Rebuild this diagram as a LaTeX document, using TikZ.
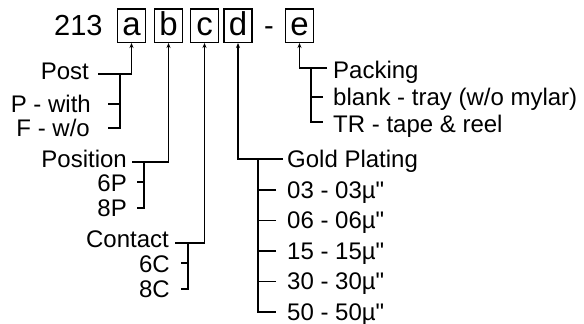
\documentclass[tikz,border=0pt]{standalone}
\usepackage{fontspec}
\setmainfont{Liberation Sans}[Ligatures=TeXOff]
\usetikzlibrary{arrows.meta}

\begin{document}
\begin{tikzpicture}[x=1pt,y=-1pt,
	lbl/.style={inner sep=0pt,font=\fontsize{24}{28}\selectfont},
	pn/.style={inner sep=0pt,font=\fontsize{29}{34}\selectfont},
	digit/.style={inner sep=0pt,font=\fontsize{33}{38}\selectfont,draw,line width=1.5pt,minimum width=28pt,text height=26.25pt,text depth=7.25pt},
	conn/.style={line width=1.6pt},
	tip/.style={-{Stealth[length=5pt,width=4pt]}}]
	
	\useasboundingbox (0,0) rectangle (584,324);
	
	% part number
	\node[pn,anchor=base west] (num) at (54,35) {213};
	\node[digit,anchor=base] (a) at (131.5,35) {a};
	\node[digit,anchor=base] (b) at (168.5,35) {b};
	\node[digit,anchor=base] (c) at (204.5,35) {c};
	\node[digit,anchor=base] (d) at (238,35) {d};
	\node[pn,anchor=base] (dash) at (269,35) {-};
	\node[digit,anchor=base] (e) at (299.5,35) {e};
	
	% left labels
	\node[lbl,anchor=base east] (post) at (89,79.5) {Post};
	\node[lbl,anchor=base east] (pwith) at (91,112.5) {P - with};
	\node[lbl,anchor=base east] (fwo) at (90,136.5) {F - w/o};
	\node[lbl,anchor=base east] (posn) at (127,167.5) {Position};
	\node[lbl,anchor=base east] (p6) at (127,191.5) {6P};
	\node[lbl,anchor=base east] (p8) at (127,216) {8P};
	\node[lbl,anchor=base east] (cont) at (169,247) {Contact};
	\node[lbl,anchor=base east] (c6) at (170,272) {6C};
	\node[lbl,anchor=base east] (c8) at (170,297) {8C};
	
	% right labels
	\node[lbl,anchor=base west] (pack) at (333,78) {Packing};
	\node[lbl,anchor=base west] (tray) at (333,105) {blank - tray (w/o mylar)};
	\node[lbl,anchor=base west] (reel) at (333,132) {TR - tape \& reel};
	\node[lbl,anchor=base west] (gold) at (287,167) {Gold Plating};
	\node[lbl,anchor=base west] (g03) at (287,198) {03 - 03µ"};
	\node[lbl,anchor=base west] (g06) at (287,228.5) {06 - 06µ"};
	\node[lbl,anchor=base west] (g15) at (287,259) {15 - 15µ"};
	\node[lbl,anchor=base west] (g30) at (287,289.5) {30 - 30µ"};
	\node[lbl,anchor=base west] (g50) at (287,320) {50 - 50µ"};
	
	% post
	\coordinate (ka) at (98,74);
	\coordinate (ka1) at (120,74);
	\coordinate (ka2) at (108,104);
	\coordinate (ka3) at (108,128);
	\draw[conn,tip] (ka) -| (a.south);
	\draw[conn] (ka1) |- (ka3);
	\draw[conn] (ka2) -| (ka1);
	
	% position
	\coordinate (kb) at (132,162);
	\coordinate (kb1) at (144,162);
	\coordinate (kb2) at (137,182);
	\coordinate (kb3) at (137,208);
	\draw[conn,tip] (kb) -| (b.south);
	\draw[conn] (kb1) |- (kb3);
	\draw[conn] (kb2) -| (kb1);
	
	% contact
	\coordinate (kc) at (175,243);
	\coordinate (kc1) at (188,243);
	\coordinate (kc2) at (181,263);
	\coordinate (kc3) at (181,289);
	\draw[conn,tip] (kc) -| (c.south);
	\draw[conn] (kc1) |- (kc3);
	\draw[conn] (kc2) -| (kc1);
	
	% gold plating
	\coordinate (kd) at (283,159);
	\coordinate (kd1) at (258,159);
	\coordinate (kd2) at (276,190);
	\coordinate (kd3) at (276,220.5);
	\coordinate (kd4) at (276,251);
	\coordinate (kd5) at (276,281.5);
	\coordinate (kd6) at (276,312);
	\draw[conn,tip] (kd) -| (d.south);
	\draw[conn] (kd1) |- (kd6);
	\draw[conn] (kd2) -- (kd2 -| kd1);
	\draw[conn] (kd3) -- (kd3 -| kd1);
	\draw[conn] (kd4) -- (kd4 -| kd1);
	\draw[conn] (kd5) -- (kd5 -| kd1);
	
	% packing
	\coordinate (ke) at (327,68);
	\coordinate (ke1) at (311,68);
	\coordinate (ke2) at (323,97);
	\coordinate (ke3) at (323,122);
	\draw[conn,tip] (ke) -| (e.south);
	\draw[conn] (ke1) |- (ke3);
	\draw[conn] (ke2) -| (ke1);
	
\end{tikzpicture}
\end{document}
